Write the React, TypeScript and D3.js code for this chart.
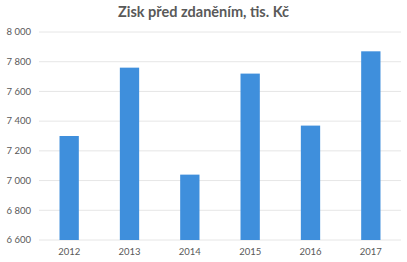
import React from "react";
import * as d3 from "d3";

const years = ["2012", "2013", "2014", "2015", "2016", "2017"];
const profit = [7300, 7760, 7040, 7720, 7370, 7870];
const yTicks = [6600, 6800, 7000, 7200, 7400, 7600, 7800, 8000];

const W = 407;
const H = 262;
const margin = { top: 32, right: 6, bottom: 22, left: 39 };

const App = () => {
  const x = d3
    .scaleBand<string>()
    .domain(years)
    .range([margin.left, W - margin.right])
    .paddingInner(0.68)
    .paddingOuter(0.34);
  const y = d3
    .scaleLinear()
    .domain([6600, 8000])
    .range([H - margin.bottom, margin.top]);
  const fmt = (v: number) => d3.format(",")(v).replace(",", " ");

  return (
    <svg
      width={W}
      height={H}
      style={{ position: "absolute", left: 0, top: 0, background: "#fff" }}
      fontFamily="Lato, 'Open Sans', sans-serif"
    >
      <text
        x={W / 2}
        y={17}
        textAnchor="middle"
        fontSize={14.5}
        fontWeight="bold"
        fill="#595959"
      >
        Zisk před zdaněním, tis. Kč
      </text>
      {yTicks.map((t) => (
        <g key={t}>
          <line
            x1={margin.left}
            x2={W - margin.right}
            y1={y(t)}
            y2={y(t)}
            stroke="#e6e6e6"
            strokeWidth={1}
          />
          <text
            x={31}
            y={y(t)}
            dy="0.35em"
            textAnchor="end"
            fontSize={9.5}
            fill="#595959"
          >
            {fmt(t)}
          </text>
        </g>
      ))}
      {years.map((yr, i) => (
        <g key={yr}>
          <rect
            x={x(yr)}
            y={y(profit[i])}
            width={x.bandwidth()}
            height={y(6600) - y(profit[i])}
            fill="#3f8fdc"
          />
          <text
            x={(x(yr) ?? 0) + x.bandwidth() / 2}
            y={H - 7}
            textAnchor="middle"
            fontSize={9.5}
            fill="#595959"
          >
            {yr}
          </text>
        </g>
      ))}
    </svg>
  );
};

export default App;
